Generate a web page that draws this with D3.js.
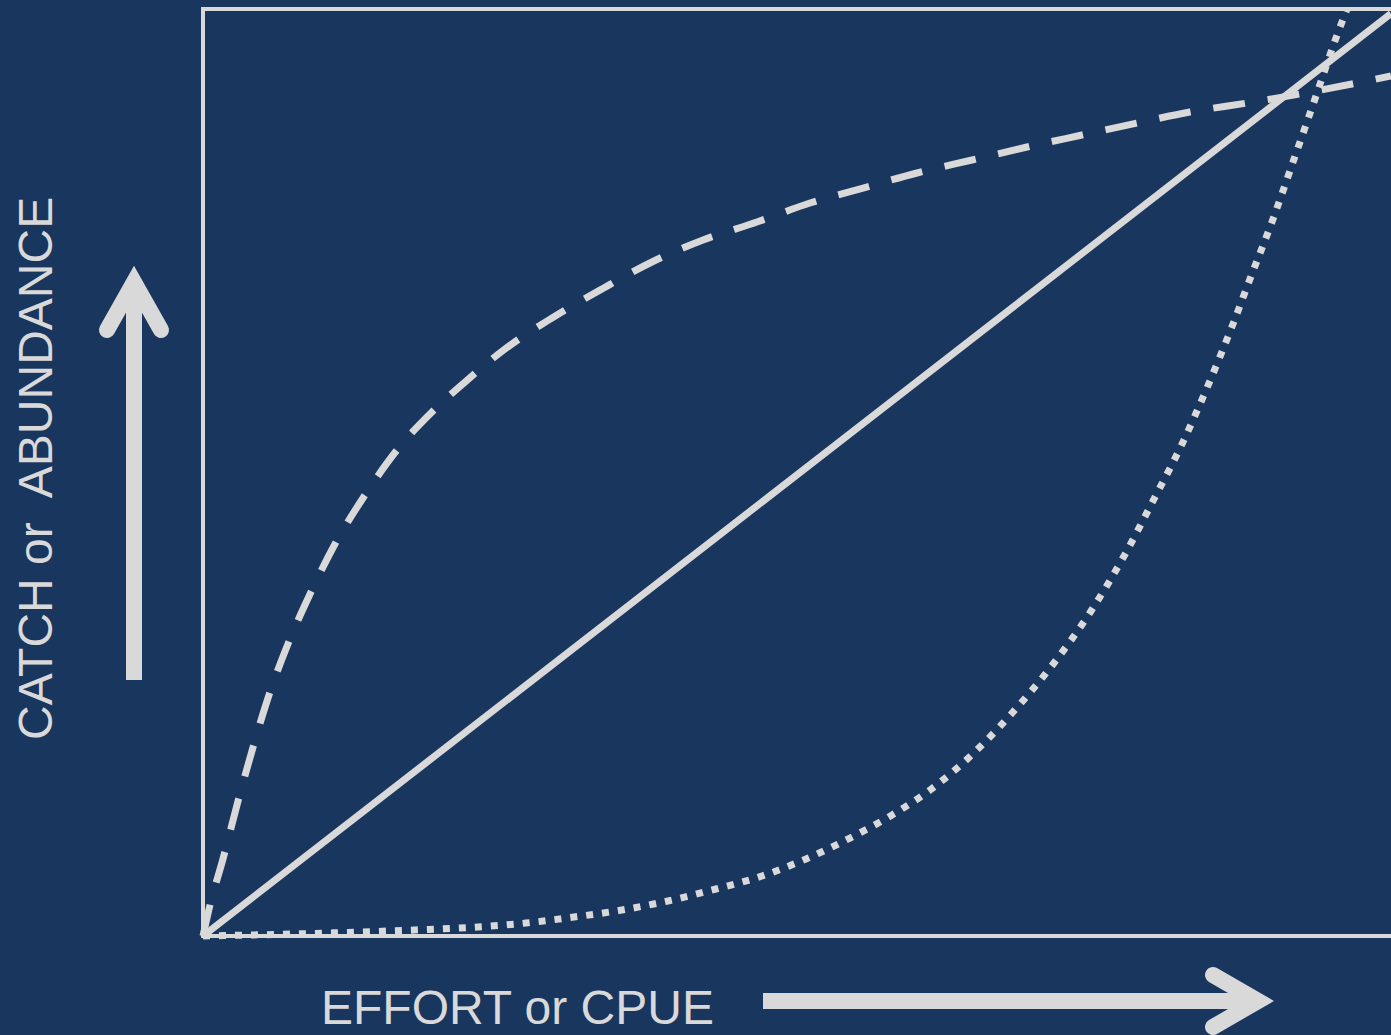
<!DOCTYPE html>
<html>
<head>
<meta charset="utf-8">
<script src="https://cdn.jsdelivr.net/npm/d3@7"></script>
<style>
  html, body { margin: 0; padding: 0; background: #19365e; }
  svg { display: block; }
  text { font-family: "Liberation Sans", Arial, sans-serif; }
</style>
</head>
<body>
<svg id="chart" width="1391" height="1035"></svg>
<script>
// ---- data (effort 0..100 on x, catch/abundance 0..100 on y) ----
const linearX = [0, 100];
const linearY = [0, 99.5];

const dashedX = [0, 0.59, 1.68, 2.86, 4.12, 5.47, 7.15, 9.01, 11.11, 13.47, 16.33, 19.36, 22.05, 25.42,
  29.38, 33.59, 37.79, 42.09, 46.63, 51.09, 55.56, 60.10, 64.73, 69.36, 73.99, 78.62, 83.08, 87.88,
  92.34, 97.14, 100];
const dashedY = [0, 3.34, 8.31, 14.13, 19.96, 25.67, 31.50, 36.89, 42.29, 47.25, 52.43, 56.63, 59.76, 63.32,
  66.67, 69.80, 72.71, 75.08, 77.02, 79.07, 80.69, 82.31, 83.71, 85.11, 86.41, 87.70, 88.89, 89.86,
  90.83, 92.02, 92.77];

const dottedX = [0, 10, 17.85, 23.15, 27.19, 31.23, 35.27, 39.14, 43.18, 47.05, 50.76, 54.46, 58.00, 61.20,
  65.57, 68.18, 71.63, 74.75, 77.53, 80.05, 82.49, 84.68, 86.70, 88.13, 90.07, 91.84, 93.60, 95.37, 96.30];
const dottedY = [0, 0.3, 0.65, 0.97, 1.40, 2.05, 2.80, 3.78, 5.07, 6.47, 8.31, 10.57, 13.05, 15.75,
  20.60, 24.16, 29.45, 35.06, 40.99, 47.14, 53.29, 59.65, 66.02, 70.87, 77.35, 83.82, 90.29, 96.87, 100];

const xLabel = "EFFORT or CPUE";
const yLabel = "CATCH or  ABUNDANCE";

// ---- layout ----
const W = 1391, H = 1035;
const plot = { left: 203, top: 9, bottom: 936, right: 1391 };
const ink = "#d9d9d9";
const bg = "#19365e";

const svg = d3.select("#chart");
svg.append("rect").attr("width", W).attr("height", H).attr("fill", bg);

const x = d3.scaleLinear().domain([0, 100]).range([plot.left, plot.right]);
const y = d3.scaleLinear().domain([0, 100]).range([plot.bottom, plot.top]);

// plot frame (right side runs off the picture)
svg.append("rect")
  .attr("x", plot.left).attr("y", plot.top)
  .attr("width", 1300).attr("height", plot.bottom - plot.top)
  .attr("fill", "none").attr("stroke", ink).attr("stroke-width", 4);

const line = d3.line().x(d => x(d[0])).y(d => y(d[1])).curve(d3.curveMonotoneX);
const zip = (a, b) => a.map((v, i) => [v, b[i]]);

svg.append("path").datum(zip(linearX, linearY))
  .attr("d", line).attr("fill", "none").attr("stroke", ink)
  .attr("stroke-width", 7);

svg.append("path").datum(zip(dashedX, dashedY))
  .attr("d", line).attr("fill", "none").attr("stroke", ink)
  .attr("stroke-width", 7).attr("stroke-dasharray", "32,23");

svg.append("path").datum(zip(dottedX, dottedY))
  .attr("d", line).attr("fill", "none").attr("stroke", ink)
  .attr("stroke-width", 7).attr("stroke-dasharray", "7,9");

// ---- axis labels ----
svg.append("text")
  .attr("x", 321).attr("y", 1024)
  .attr("font-size", 48).attr("fill", ink)
  .text(xLabel);

svg.append("text")
  .attr("transform", "translate(52,740) rotate(-90)")
  .attr("font-size", 48).attr("fill", ink)
  .style("white-space", "pre")
  .attr("xml:space", "preserve")
  .text(yLabel);

// ---- arrows ----
const arrowStyle = sel => sel.attr("fill", "none").attr("stroke", ink).attr("stroke-width", 16)
  .attr("stroke-linejoin", "miter").attr("stroke-miterlimit", 10);

// vertical arrow
svg.append("line").attr("x1", 134).attr("y1", 680).attr("x2", 134).attr("y2", 290)
  .attr("stroke", ink).attr("stroke-width", 16);
svg.append("path").attr("d", "M107,330 L134,282 L161,330").call(arrowStyle)
  .attr("stroke-linecap", "round");

// horizontal arrow
svg.append("line").attr("x1", 763).attr("y1", 1001).attr("x2", 1250).attr("y2", 1001)
  .attr("stroke", ink).attr("stroke-width", 16);
svg.append("path").attr("d", "M1213,975 L1258,1001 L1213,1027").call(arrowStyle)
  .attr("stroke-linecap", "round");
</script>
</body>
</html>
